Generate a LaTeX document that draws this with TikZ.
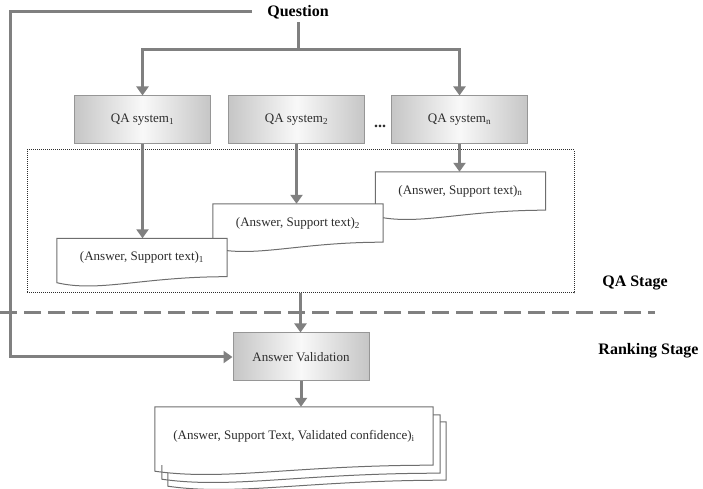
\documentclass[tikz,border=0pt]{standalone}
\usepackage{fontspec}
\setmainfont{Liberation Serif}
\usetikzlibrary{arrows.meta,calc}

\definecolor{linegray}{RGB}{128,128,128}
\definecolor{boxgray}{RGB}{150,150,150}
\definecolor{docgray}{RGB}{110,110,110}
\definecolor{txtgray}{RGB}{45,45,45}

% outline of a document node (wavy bottom)
\newcommand{\docline}[1]{%
  \draw[docedge] (#1.north west) -- (#1.north east) -- (#1.south east)
    .. controls ($(#1.south east)!0.5!(#1.south west)$)
    and ($(#1.south east)!0.75!(#1.south west)+(0,-16)$)
    .. ($(#1.south west)+(0,-6)$) -- cycle;}

\begin{document}
\begin{tikzpicture}[
  x=1pt, y=1pt,
  every node/.style={font=\fontsize{13}{15}\selectfont, text=txtgray},
  conn/.style={draw=linegray, line width=3pt},
  arr/.style={conn, -{Triangle[length=9pt,width=12pt]}},
  qabox/.style={rectangle, draw=boxgray, line width=1pt, left color=gray!45,
    right color=gray!45, middle color=gray!5, minimum width=136pt, minimum height=48pt},
  docbox/.style={rectangle, fill=white, minimum width=170pt, minimum height=38pt, inner sep=2pt},
  docedge/.style={draw=docgray, line width=1pt},
  stageframe/.style={rectangle, draw=txtgray, line width=1pt, dash pattern=on 1pt off 1pt},
  stagesep/.style={draw=linegray, line width=3pt, dash pattern=on 17pt off 7pt},
  stage/.style={font=\fontsize{16}{18}\selectfont\bfseries, text=black}
]
\useasboundingbox (0,0) rectangle (703,489);

% QA stage
\node[stage, inner xsep=15pt] (question) at (298,477) {Question};
\node[qabox] (qa1) at (142.5,369) {QA system\textsubscript{1}};
\node[qabox] (qa2) at (296.5,369) {QA system\textsubscript{2}};
\node[qabox] (qan) at (459.5,369) {QA system\textsubscript{n}};
\node[stage, text=txtgray] (dots) at (380,363) {...};

\node[stageframe, minimum width=547pt, minimum height=143pt] (qaframe) at (300.5,267.5) {};

\node[docbox] (docn) at (460.5,298) {(Answer, Support text)\textsubscript{n}};
\docline{docn}
\node[docbox] (doc2) at (298,266) {(Answer, Support text)\textsubscript{2}};
\docline{doc2}
\node[docbox] (doc1) at (142,231.5) {(Answer, Support text)\textsubscript{1}};
\docline{doc1}

\node[stage] (qastage) at (635,206) {QA Stage};

\draw[stagesep] (0,176) -- (655,176);

% ranking stage
\node[qabox] (av) at (301,132) {Answer Validation};
\node[stage] (rankstage) at (648.5,138) {Ranking Stage};

\node[docbox, minimum width=278pt, minimum height=58pt] (stack3) at (307,38) {};
\docline{stack3}
\node[docbox, minimum width=278pt, minimum height=58pt] (stack2) at (301,45) {};
\docline{stack2}
\node[docbox, minimum width=278pt, minimum height=58pt] (stack) at (294,53)
  {(Answer, Support Text, Validated confidence)\textsubscript{i}};
\docline{stack}

% connectors
\coordinate (split) at (298,439);
\coordinate (qleft) at (10,477);
\draw[conn] (question.south) -- (split);
\draw[arr] (split) -| (qa1.north);
\draw[arr] (split) -| (qan.north);
\draw[arr] (qa1.south) -- (qa1.south |- doc1.north);
\draw[arr] (qa2.south) -- (qa2.south |- doc2.north);
\draw[arr] (qan.south) -- (qan.south |- docn.north);
\draw[arr] (qaframe.south) -- (qaframe.south |- av.north);
\draw[arr] (question.west) -- (qleft) |- (av.west);
\draw[arr] (av.south) -- (av.south |- stack.north);
\end{tikzpicture}
\end{document}
